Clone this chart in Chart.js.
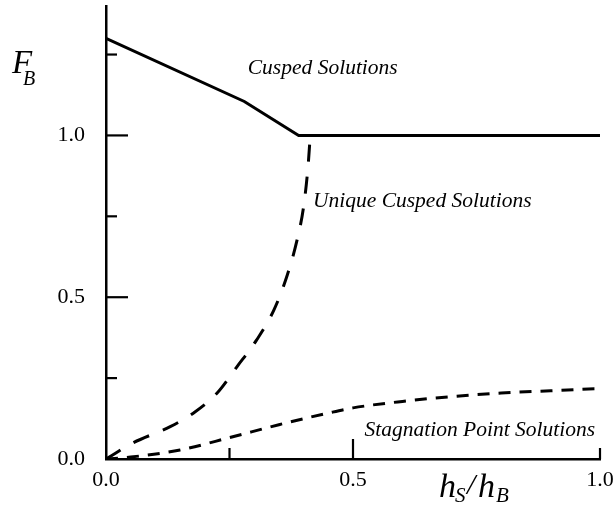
<!DOCTYPE html>
<html>
<head>
<meta charset="utf-8">
<script src="https://cdn.jsdelivr.net/npm/chart.js@4/dist/chart.umd.min.js"></script>
<style>
html,body{margin:0;padding:0;background:#fff;}
#c{display:block;}
</style>
</head>
<body>
<canvas id="c" width="614" height="515"></canvas>
<script>
// ---- data ----
const cuspedX = [0, 0.28, 0.39, 1.0];
const cuspedY = [1.3, 1.105, 1.0, 1.0];

const uniqueX = [0, 0.055, 0.13, 0.18, 0.225, 0.265, 0.305, 0.34, 0.366, 0.387, 0.4, 0.409, 0.413];
const uniqueY = [0, 0.05, 0.10, 0.145, 0.204, 0.285, 0.368, 0.461, 0.564, 0.678, 0.78, 0.904, 0.99];

const stagX = [0, 0.05, 0.15, 0.25, 0.35, 0.45, 0.5, 0.6, 0.7, 0.8, 0.9, 1.0];
const stagY = [0, 0.006, 0.028, 0.066, 0.106, 0.142, 0.158, 0.178, 0.193, 0.204, 0.211, 0.218];

const xTickLabels = [0, 0.5, 1.0];
const yTickLabels = [0, 0.5, 1.0];
const xMajorTicks = [0.5];
const xMinorTicks = [0.25, 1.0];
const yMajorTicks = [0.5, 1.0];
const yMinorTicks = [0.25, 0.75, 1.25];

const regionLabels = [
  {text: 'Cusped Solutions', x: 0.287, y: 1.19, align: 'left'},
  {text: 'Unique Cusped Solutions', x: 0.419, y: 0.778, align: 'left'},
  {text: 'Stagnation Point Solutions', x: 0.99, y: 0.07, align: 'right'}
];

const toPts = (xs, ys) => xs.map((x, i) => ({x: x, y: ys[i]}));

const SERIF = '"Liberation Serif", "Times New Roman", serif';

const decor = {
  id: 'decor',
  afterDraw(chart) {
    const ctx = chart.ctx;
    const xs = chart.scales.x, ys = chart.scales.y;
    const x0 = xs.getPixelForValue(0), y0 = ys.getPixelForValue(0);
    ctx.save();
    ctx.strokeStyle = '#000';
    ctx.lineWidth = 2.2;
    // y ticks (inward)
    yMajorTicks.forEach(v => { const p = ys.getPixelForValue(v); ctx.beginPath(); ctx.moveTo(x0, p); ctx.lineTo(x0 + 22, p); ctx.stroke(); });
    yMinorTicks.forEach(v => { const p = ys.getPixelForValue(v); ctx.beginPath(); ctx.moveTo(x0, p); ctx.lineTo(x0 + 11, p); ctx.stroke(); });
    // x ticks (inward)
    xMajorTicks.forEach(v => { const p = xs.getPixelForValue(v); ctx.beginPath(); ctx.moveTo(p, y0); ctx.lineTo(p, y0 - 20); ctx.stroke(); });
    xMinorTicks.forEach(v => { const p = xs.getPixelForValue(v); ctx.beginPath(); ctx.moveTo(p, y0); ctx.lineTo(p, y0 - 11); ctx.stroke(); });

    // region labels
    ctx.fillStyle = '#000';
    ctx.font = 'italic 21.5px ' + SERIF;
    ctx.textBaseline = 'alphabetic';
    regionLabels.forEach(l => {
      ctx.textAlign = l.align;
      ctx.fillText(l.text, xs.getPixelForValue(l.x), ys.getPixelForValue(l.y));
    });

    // y axis title F_B
    ctx.textAlign = 'left';
    ctx.font = 'italic 33px ' + SERIF;
    ctx.fillText('F', 12, 73);
    ctx.font = 'italic 20px ' + SERIF;
    ctx.fillText('B', 23, 85);

    // x axis title h_S/h_B
    ctx.font = 'italic 34px ' + SERIF;
    ctx.fillText('h', 439, 497);
    ctx.font = 'italic 21px ' + SERIF;
    ctx.fillText('S', 455, 502);
    ctx.font = 'italic 30px ' + SERIF;
    ctx.fillText('/', 467, 494);
    ctx.font = 'italic 34px ' + SERIF;
    ctx.fillText('h', 478, 497);
    ctx.font = 'italic 21px ' + SERIF;
    ctx.fillText('B', 496, 502);
    ctx.restore();
  }
};

new Chart(document.getElementById('c'), {
  type: 'scatter',
  data: {
    datasets: [
      {label: 'Cusped boundary', data: toPts(cuspedX, cuspedY), showLine: true, borderColor: '#000', borderWidth: 3, pointRadius: 0, tension: 0, fill: false},
      {label: 'Unique Cusped', data: toPts(uniqueX, uniqueY), showLine: true, borderColor: '#000', borderWidth: 3, borderDash: [17, 15], pointRadius: 0, cubicInterpolationMode: 'monotone', fill: false},
      {label: 'Stagnation Point', data: toPts(stagX, stagY), showLine: true, borderColor: '#000', borderWidth: 3, borderDash: [12, 9], pointRadius: 0, cubicInterpolationMode: 'monotone', fill: false}
    ]
  },
  options: {
    responsive: false,
    animation: false,
    devicePixelRatio: 1,
    layout: {padding: {left: 0, right: 14, top: 6, bottom: 0}},
    plugins: {legend: {display: false}, tooltip: {enabled: false}},
    scales: {
      x: {
        type: 'linear', min: 0, max: 1,
        afterBuildTicks: s => { s.ticks = xTickLabels.map(v => ({value: v})); },
        afterFit: s => { s.height = 56; s.paddingLeft = 0; s.paddingRight = 0; },
        grid: {display: false, drawTicks: false},
        border: {display: true, color: '#000', width: 2.5},
        ticks: {color: '#000', padding: 8, font: {family: SERIF, size: 22}, maxRotation: 0, callback: v => v.toFixed(1)}
      },
      y: {
        type: 'linear', min: 0, max: 1.4,
        afterBuildTicks: s => { s.ticks = yTickLabels.map(v => ({value: v})); },
        afterFit: s => { s.width = 106; s.paddingTop = 0; s.paddingBottom = 0; },
        grid: {display: false, drawTicks: false},
        border: {display: true, color: '#000', width: 2.5},
        ticks: {color: '#000', padding: 21, font: {family: SERIF, size: 22}, callback: v => v.toFixed(1)}
      }
    }
  },
  plugins: [decor]
});
</script>
</body>
</html>
